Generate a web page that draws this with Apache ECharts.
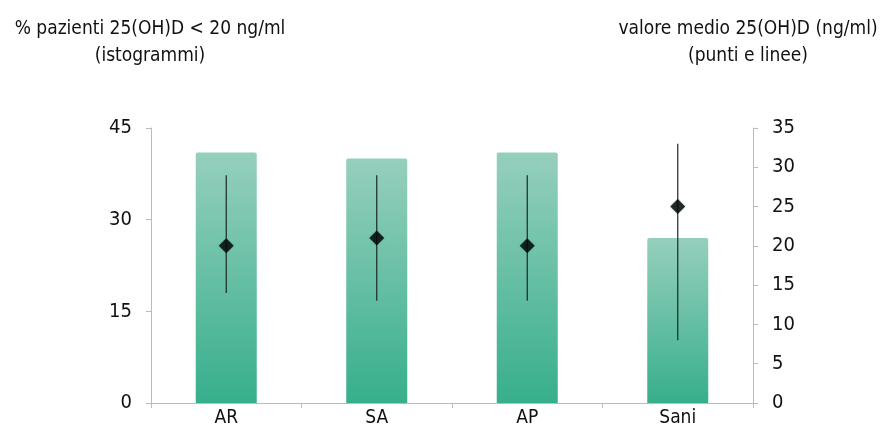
<!DOCTYPE html>
<html><head><meta charset="utf-8">
<script src="https://cdn.jsdelivr.net/npm/echarts@6/dist/echarts.min.js"></script>
<style>html,body{margin:0;padding:0;background:#fff}#c{width:880px;height:438px}</style>
</head><body><div id="c"></div>
<script>
const categories = ['AR', 'SA', 'AP', 'Sani'];
const pctBelow20 = [41, 40, 41, 27];
const meanValues = [20, 21, 20, 25];
const errLow = [14, 13, 13, 8];
const errHigh = [29, 29, 29, 33];
const leftTicks = [0, 15, 30, 45];
const rightTicks = [0, 5, 10, 15, 20, 25, 30, 35];

const FONT = '"DejaVu Sans Condensed", "DejaVu Sans", sans-serif';
const TXT = { fontFamily: FONT, fontStyle: 'normal', fontWeight: 'condensed', color: '#111' };
const chart = echarts.init(document.getElementById('c'));
chart.setOption({
  animation: false,
  backgroundColor: '#fff',
  title: [
    { text: '% pazienti 25(OH)D < 20 ng/ml\n(istogrammi)', left: 145, top: 11, textAlign: 'center',
      textStyle: Object.assign({}, TXT, { fontSize: 19, lineHeight: 27, align: 'center' }) },
    { text: 'valore medio 25(OH)D (ng/ml)\n(punti e linee)', left: 743, top: 11, textAlign: 'center',
      textStyle: Object.assign({}, TXT, { fontSize: 19, lineHeight: 27, align: 'center' }) }
  ],
  grid: { left: 151, right: 127, top: 128, bottom: 35 },
  xAxis: {
    type: 'category', data: categories,
    axisLine: { lineStyle: { color: '#bbb' } },
    axisTick: { show: true, length: 5, lineStyle: { color: '#bbb' } },
    axisLabel: Object.assign({}, TXT, { fontSize: 19, margin: 6 })
  },
  yAxis: [
    { type: 'value', min: 0, max: 45, interval: 15, position: 'left',
      axisLine: { show: true, lineStyle: { color: '#bbb' } },
      axisTick: { show: true, length: 5, lineStyle: { color: '#bbb' } },
      splitLine: { show: false },
      axisLabel: Object.assign({}, TXT, { fontSize: 20, margin: 19,
        formatter: v => leftTicks.includes(v) ? String(v) : '' }) },
    { type: 'value', min: 0, max: 35, interval: 5, position: 'right',
      axisLine: { show: true, lineStyle: { color: '#bbb' } },
      axisTick: { show: true, length: 5, lineStyle: { color: '#bbb' } },
      splitLine: { show: false },
      axisLabel: Object.assign({}, TXT, { fontSize: 20, margin: 19,
        formatter: v => rightTicks.includes(v) ? String(v) : '' }) }
  ],
  series: [
    { type: 'bar', yAxisIndex: 0, data: pctBelow20, barWidth: 61,
      itemStyle: { borderRadius: [2, 2, 0, 0],
        color: new echarts.graphic.LinearGradient(0, 0, 0, 1, [
          { offset: 0, color: '#96cfbd' }, { offset: 1, color: '#37af8c' }]) } },
    { type: 'custom', yAxisIndex: 1, z: 5,
      data: categories.map((c, i) => [i, errLow[i], errHigh[i]]),
      renderItem: (params, api) => {
        const lo = api.coord([api.value(0), api.value(1)]);
        const hi = api.coord([api.value(0), api.value(2)]);
        return { type: 'line', shape: { x1: lo[0], y1: lo[1], x2: hi[0], y2: hi[1] },
          style: { stroke: '#1a2a24', lineWidth: 1.2 } };
      } },
    { type: 'scatter', yAxisIndex: 1, z: 6, data: meanValues, symbol: 'diamond', symbolSize: [15, 15],
      itemStyle: { color: '#000', shadowColor: 'rgba(20,120,90,0.5)', shadowBlur: 2 } }
  ]
});
</script></body></html>
